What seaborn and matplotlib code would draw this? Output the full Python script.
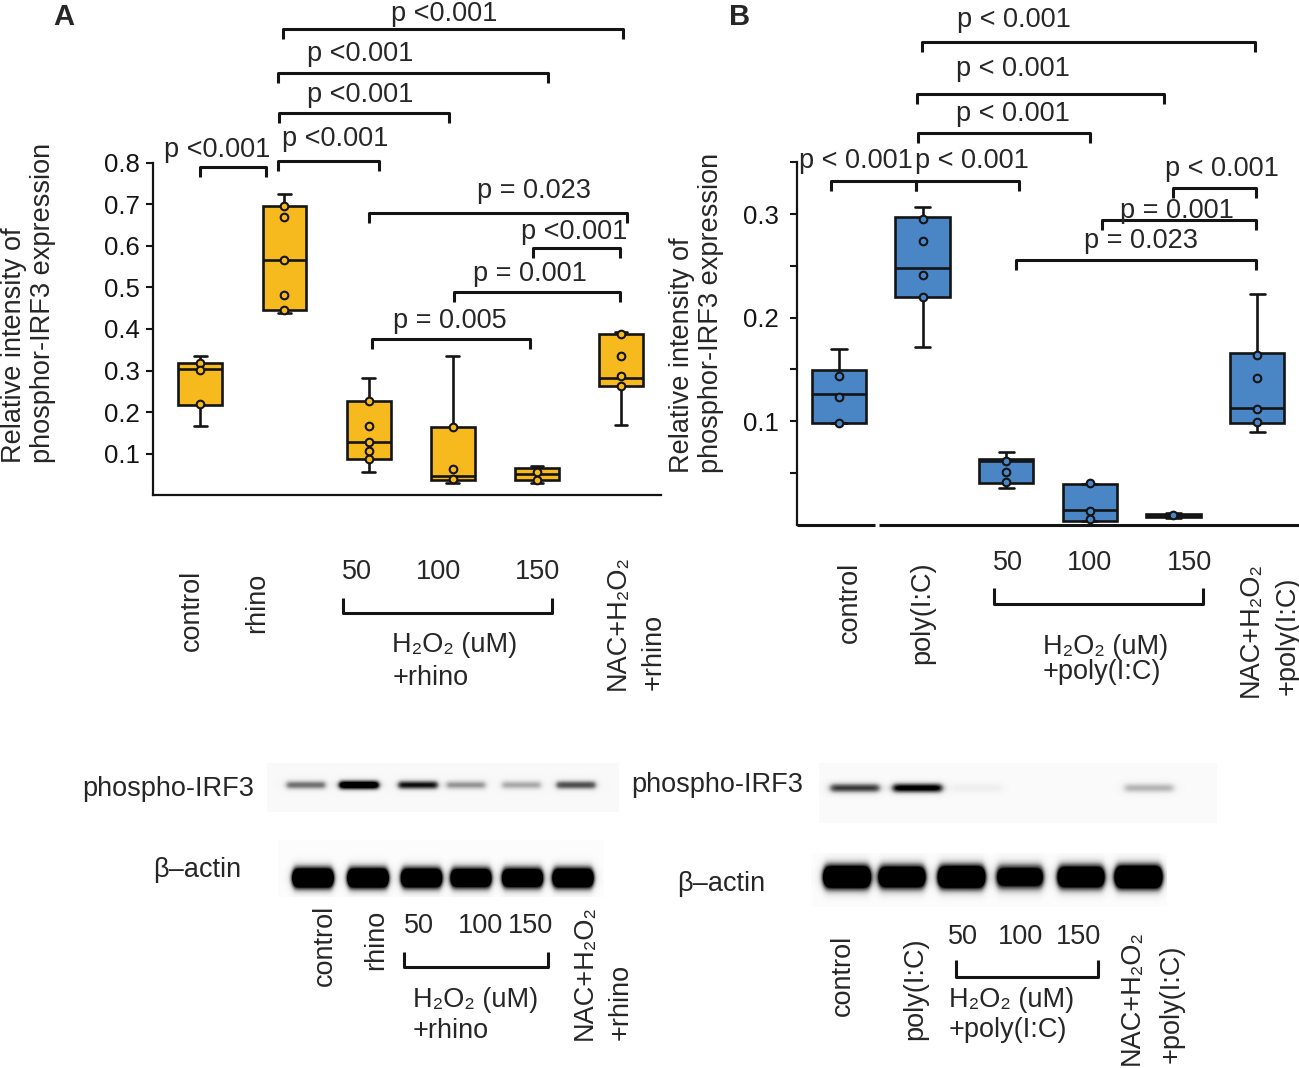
import numpy as np
import pandas as pd
import matplotlib
matplotlib.use("Agg")
import matplotlib.pyplot as plt
import seaborn as sns

# ---------------- data ----------------
groups = ["control", "treated", "H2O2 50", "H2O2 100", "H2O2 150", "NAC+H2O2"]

# Panel A (rhino) box statistics: lower whisker, Q1, median, Q3, upper whisker
a_lo  = [0.167, 0.438, 0.057, 0.030, 0.030, 0.170]
a_q1  = [0.217, 0.446, 0.086, 0.037, 0.037, 0.262]
a_med = [0.304, 0.565, 0.128, 0.047, 0.050, 0.282]
a_q3  = [0.318, 0.696, 0.226, 0.163, 0.066, 0.388]
a_hi  = [0.334, 0.726, 0.282, 0.334, 0.070, 0.392]
a_pts = [[0.318, 0.302, 0.220],
         [0.695, 0.670, 0.565, 0.481, 0.446],
         [0.226, 0.166, 0.128, 0.106, 0.086],
         [0.163, 0.062, 0.038],
         [0.055, 0.037],
         [0.387, 0.334, 0.286, 0.263]]

# Panel B (poly(I:C)) box statistics
b_lo  = [0.098, 0.172, 0.035, 0.0036, 0.006, 0.089]
b_q1  = [0.098, 0.220, 0.040, 0.0036, 0.0075, 0.098]
b_med = [0.126, 0.248, 0.061, 0.014, 0.009, 0.113]
b_q3  = [0.149, 0.297, 0.063, 0.0396, 0.0105, 0.166]
b_hi  = [0.170, 0.307, 0.070, 0.0396, 0.011, 0.223]
b_pts = [[0.144, 0.123, 0.098],
         [0.295, 0.274, 0.241, 0.220],
         [0.061, 0.051, 0.041],
         [0.040, 0.013, 0.005],
         [0.009],
         [0.164, 0.142, 0.112, 0.099]]

a_yticks = [0.1, 0.2, 0.3, 0.4, 0.5, 0.6, 0.7, 0.8]
a_yticklabels = ["0.1", "0.2", "0.3", "0.4", "0.5", "0.6", "0.7", "0.8"]
b_yticks = [0.1, 0.2, 0.3]
b_yticklabels = ["0.1", "0.2", "0.3"]
b_yminor = [0.05, 0.15, 0.25, 0.35]

# significance annotations: (x1, x2, y, label, text_x, text_y) in data units
a_sig = [(-0.00, 0.78, 0.791, "p <0.001", 0.20, 0.830),
         (0.92, 2.12, 0.805, "p <0.001", 1.60, 0.857),
         (0.93, 2.96, 0.920, "p <0.001", 1.90, 0.963),
         (0.92, 4.13, 1.017, "p <0.001", 1.90, 1.062),
         (0.98, 5.02, 1.121, "p <0.001", 2.90, 1.157),
         (2.00, 5.07, 0.680, "p = 0.023", 3.96, 0.733),
         (3.95, 4.99, 0.594, "p <0.001", 4.44, 0.633),
         (3.02, 4.99, 0.490, "p = 0.001", 3.92, 0.532),
         (2.04, 3.92, 0.376, "p = 0.005", 2.97, 0.420)]
b_sig = [(-0.09, 0.92, 0.3324, "p < 0.001", 0.20, 0.351),
         (0.92, 2.15, 0.3324, "p < 0.001", 1.59, 0.351),
         (0.94, 3.00, 0.378, "p < 0.001", 2.08, 0.397),
         (0.93, 3.89, 0.4157, "p < 0.001", 2.08, 0.440),
         (0.99, 4.98, 0.4659, "p < 0.001", 2.09, 0.488),
         (3.99, 4.99, 0.325, "p < 0.001", 4.58, 0.344),
         (3.15, 4.99, 0.2945, "p = 0.001", 4.04, 0.303),
         (2.12, 4.99, 0.2553, "p = 0.023", 3.61, 0.274)]

# western blot band intensities (0 = none, 1 = strong)
blotA_irf3  = [0.45, 1.00, 0.70, 0.35, 0.30, 0.55]
blotA_actin = [0.95, 0.95, 0.90, 0.85, 0.85, 0.90]
blotB_irf3  = [0.60, 0.80, 0.07, 0.00, 0.00, 0.28]
blotB_actin = [0.95, 0.85, 0.95, 0.70, 0.85, 1.00]

# ---------------- style ----------------
sns.set_theme(style="white")
plt.rcParams["font.family"] = ["Liberation Sans", "DejaVu Sans"]
plt.rcParams["axes.unicode_minus"] = False

YELLOW = "#F6BA1E"
BLUE = "#4A86C6"
DARK = "#141414"
FS = 19.5
TFS = 18.5

W, H = 1299, 1068
fig = plt.figure(figsize=(W / 100, H / 100), dpi=100)


def px_axes(l, t, r, b):
    return fig.add_axes([l / W, 1 - b / H, (r - l) / W, (b - t) / H])


def shrink_caps(ax, capw):
    horiz = []
    for ln in ax.lines:
        x = np.asarray(ln.get_xdata(), float)
        y = np.asarray(ln.get_ydata(), float)
        if len(x) == 2 and np.isclose(y[0], y[1]) and not np.isclose(x[0], x[1]):
            horiz.append((ln, abs(x[1] - x[0])))
    if not horiz:
        return
    mx = max(l for _, l in horiz)
    for ln, l in horiz:
        if l < 0.95 * mx:
            x = ln.get_xdata()
            c = (x[0] + x[1]) / 2
            ln.set_xdata([c - capw / 2, c + capw / 2])


def panel(ax, lo, q1, med, q3, hi, pts, color, width, capw):
    rows = []
    for g, a, b, c, d, e in zip(groups, lo, q1, med, q3, hi):
        for v in (a, b, c, d, e):
            rows.append((g, v))
    dfb = pd.DataFrame(rows, columns=["group", "value"])
    sns.boxplot(data=dfb, x="group", y="value", order=groups, color=color,
                saturation=1, width=width, linewidth=1.9, linecolor=DARK,
                whis=(0, 100), showfliers=False, ax=ax)
    shrink_caps(ax, capw)
    prow = [(g, v) for g, vals in zip(groups, pts) for v in vals]
    dfp = pd.DataFrame(prow, columns=["group", "value"])
    sns.stripplot(data=dfp, x="group", y="value", order=groups, jitter=False,
                  color=color, edgecolor=DARK, linewidth=1.5, size=5.5,
                  ax=ax, zorder=5)
    ax.set_xlabel("")
    ax.set_ylabel("")
    ax.set_xticks([])
    ax.patch.set_alpha(0)
    for s in ("top", "right"):
        ax.spines[s].set_visible(False)
    for s in ("left", "bottom"):
        ax.spines[s].set_linewidth(1.6)
        ax.spines[s].set_color(DARK)


def brackets(ax, sig, tick):
    for x1, x2, y, lab, tx, ty in sig:
        ax.plot([x1, x1, x2, x2], [y - tick, y, y, y - tick], color=DARK,
                lw=2.2, clip_on=False, solid_capstyle="butt")
        ax.text(tx, ty, lab, ha="center", va="center", fontsize=FS,
                clip_on=False)


# ---------------- panel A ----------------
axA = px_axes(152.5, 162.8, 661, 495.2)
panel(axA, a_lo, a_q1, a_med, a_q3, a_hi, a_pts, YELLOW, 0.52, 0.15)
axA.set_xlim(-0.567, 5.473)
axA.set_ylim(0, 0.8)
axA.set_yticks(a_yticks)
axA.set_yticklabels(a_yticklabels)
axA.tick_params(axis="y", direction="out", length=5, width=1.5,
                labelsize=TFS, pad=4, left=True, colors=DARK)
brackets(axA, a_sig, 0.024)

# ---------------- panel B ----------------
axB = px_axes(797.3, 162.4, 1299, 524.5)
panel(axB, b_lo, b_q1, b_med, b_q3, b_hi, b_pts, BLUE, 0.65, 0.18)
axB.set_xlim(-0.499, 5.502)
axB.set_ylim(0, 0.35)
axB.set_yticks(b_yticks)
axB.set_yticklabels(b_yticklabels)
axB.set_yticks(b_yminor, minor=True)
axB.tick_params(axis="y", which="both", direction="out", length=5, width=1.5,
                labelsize=TFS, pad=8, left=True, colors=DARK)
axB.spines["bottom"].set_visible(False)
axB.hlines(0, -0.499, 0.431, color=DARK, lw=2.2, clip_on=False)
axB.hlines(0, 0.484, 5.502, color=DARK, lw=2.2, clip_on=False)
brackets(axB, b_sig, 0.0096)

# ---------------- overlay (labels and blots) ----------------
ov = fig.add_axes([0, 0, 1, 1])
ov.patch.set_alpha(0)
ov.axis("off")


def txt(x, y, s, **kw):
    kw.setdefault("fontsize", FS)
    ov.text(x, y, s, **kw)


def rot(x, y, s, va):
    txt(x, y, s, rotation=90, ha="center", va=va)


def under_bracket(x1, x2, y, ytop):
    ov.plot([x1, x1, x2, x2], [ytop, y, y, ytop], color=DARK, lw=2.2,
            solid_capstyle="butt")


def blot(x0, x1, y0, y1, centers, inten, cy, hw, sy, gain, bg):
    xs = np.arange(x0, x1) + 0.5
    ys = np.arange(y0, y1) + 0.5
    X, Y = np.meshgrid(xs, ys)
    img = np.full(X.shape, bg)
    for c, v in zip(centers, inten):
        img += gain * v / (1 + ((X - c) / hw) ** 12) * np.exp(-0.5 * ((Y - cy) / sy) ** 2)
    ov.imshow(np.clip(img, 0, 1), extent=[x0, x1, y1, y0], cmap="Greys",
              vmin=0, vmax=1, aspect="auto", interpolation="bilinear")


# panel letters
txt(64, 17, "A", ha="center", va="center", fontsize=21, fontweight="bold")
txt(740, 17, "B", ha="center", va="center", fontsize=21, fontweight="bold")

# y labels
ylab = "Relative intensity of\nphosphor-IRF3 expression"
txt(29, 463, ylab, rotation=90, ha="center", va="bottom", multialignment="left",
    linespacing=1.15)
txt(697, 473, ylab, rotation=90, ha="center", va="bottom", multialignment="left",
    linespacing=1.15)

# panel A category labels
rot(192, 570, "control", "top")
rot(257, 573, "rhino", "top")
for x, s in zip([357, 438.5, 537.6], ["50", "100", "150"]):
    txt(x, 572, s, ha="center", va="center")
under_bracket(342.6, 551.6, 613.3, 598.3)
txt(392.5, 645, "H\u2082O\u2082 (uM)", ha="left", va="center")
txt(392.5, 678, "+rhino", ha="left", va="center")
rot(618, 690, "NAC+H\u2082O\u2082", "bottom")
rot(654, 690, "+rhino", "bottom")

# panel B category labels
rot(849.5, 562, "control", "top")
rot(922, 562, "poly(I:C)", "top")
for x, s in zip([1007.5, 1090, 1189.6], ["50", "100", "150"]):
    txt(x, 563, s, ha="center", va="center")
under_bracket(994, 1202.8, 604, 588)
txt(1043, 647, "H\u2082O\u2082 (uM)", ha="left", va="center")
txt(1043, 672, "+poly(I:C)", ha="left", va="center")
rot(1251, 697, "NAC+H\u2082O\u2082", "bottom")
rot(1288, 695, "+poly(I:C)", "bottom")

# blot A
txt(254, 789, "phospho-IRF3", ha="right", va="center")
blot(267, 619, 763, 812, [306, 359, 418, 466, 521.5, 576], blotA_irf3,
     785, 20, 3.2, 1.3, 0.05)
txt(241, 870, "\u03b2\u2013actin", ha="right", va="center")
blot(278, 604, 840, 897, [313, 368, 421.5, 471, 522.5, 573], blotA_actin,
     878, 20, 7.0, 2.4, 0.02)
rot(324.7, 905, "control", "top")
rot(376, 910, "rhino", "top")
for x, s in zip([419, 481, 531], ["50", "100", "150"]):
    txt(x, 926, s, ha="center", va="center")
under_bracket(404, 548, 966.7, 951.7)
txt(413, 1000, "H\u2082O\u2082 (uM)", ha="left", va="center")
txt(413, 1031, "+rhino", ha="left", va="center")
rot(585, 1040, "NAC+H\u2082O\u2082", "bottom")
rot(621, 1040, "+rhino", "bottom")

# blot B
txt(803.7, 785, "phospho-IRF3", ha="right", va="center")
blot(819, 1217, 763, 823, [855, 917.5, 977, 1037, 1093, 1149], blotB_irf3,
     788, 25, 3.5, 1.3, 0.04)
txt(765, 884, "\u03b2\u2013actin", ha="right", va="center")
blot(811, 1167, 853, 907, [847, 902, 961.5, 1020, 1081, 1138.5], blotB_actin,
     877, 23, 8, 2.4, 0.02)
rot(843, 935, "control", "top")
rot(915.5, 937, "poly(I:C)", "top")
for x, s in zip([962.5, 1021, 1079], ["50", "100", "150"]):
    txt(x, 937, s, ha="center", va="center")
under_bracket(956, 1097.6, 976.7, 960)
txt(949, 1000, "H\u2082O\u2082 (uM)", ha="left", va="center")
txt(949, 1030, "+poly(I:C)", ha="left", va="center")
rot(1132, 1065, "NAC+H\u2082O\u2082", "bottom")
rot(1172, 1063, "+poly(I:C)", "bottom")

ov.set_xlim(0, W)
ov.set_ylim(H, 0)

fig.savefig("out.png", dpi=100, facecolor="white")
